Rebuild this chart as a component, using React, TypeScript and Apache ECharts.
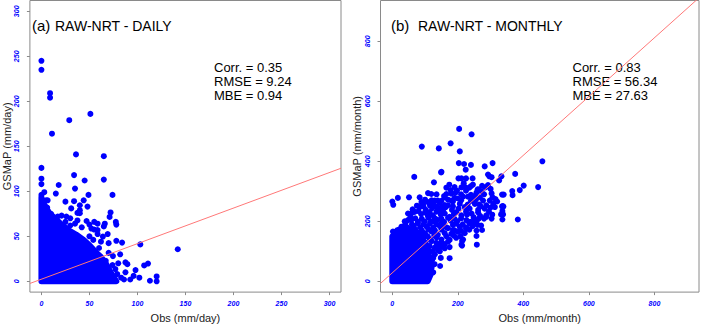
import React, { useEffect, useRef } from "react";
import * as echarts from "echarts";

// ---------- axes ----------
const dailyTicks = [0, 50, 100, 150, 200, 250, 300];
const monthlyTicks = [0, 200, 400, 600, 800];
const dailyRange = [-12, 312];
const monthlyRange = [-36, 936];

// ---------- panel (a) daily ----------
// outline of the fully over-plotted mass (dot centres)
const dailyCore: [number, number][] = [
  [0, 0], [0, 93], [3, 85], [8, 76], [14, 70], [20, 64], [28, 57], [36, 52],
  [44, 46], [50, 40], [56, 33], [62, 27], [67, 20], [71, 12], [75, 5], [78, 0],
];
const dailyPoints: [number, number][] = [
  [0, 245], [0, 235], [9, 209], [9, 204], [51, 186], [29, 179], [11, 164],
  [36, 141], [65, 139], [0, 126], [0, 114], [0, 108], [34, 118], [45, 112],
  [65, 113], [18, 107], [35, 103], [3, 99], [0, 96], [15, 97.5], [49, 96], [74, 96],
  [6.5, 90], [25, 88.5], [34, 89], [44, 90], [40, 84.5], [48, 83], [31, 81],
  [37.5, 76], [72, 76.5], [71, 71.5], [77.5, 66], [69, 52.5], [78, 45], [84, 43],
  [103, 41], [142, 35.6], [87.5, 21], [89.5, 19], [107, 17.6], [111, 19.7],
  [98, 12.5], [102, 4], [113, 0.6], [120, 5.4], [120, 0], [96, 6],
  [4.8, 90], [40, 79], [40, 75.6], [10, 75], [21, 73], [26, 72], [11, 69],
  [37.5, 67.6], [47, 67], [50, 63], [66, 64], [65, 61], [78, 63], [55, 57.5],
  [58.5, 52.5], [64, 49.7], [50, 50], [43, 42], [46.6, 38], [70, 42.4], [60, 37],
  [70, 31.6], [74.5, 28], [67, 22.7], [63.7, 13.6], [70, 11.9], [77, 13.6],
  [79, 8], [87.5, 10], [86, 2], [92.5, 2], [55, 66], [58.5, 64], [52, 58.6],
  [58.5, 57], [30, 70], [35, 64], [42, 60], [30, 62], [25, 66], [17, 72],
  [6, 82], [82, 30], [80, 20], [83, 4], [74, 18], [62, 44], [54, 46],
];
const dailyFitLine: [number, number][] = [[-12, -2.4], [312, 125.6]];
const dailyStats = ["Corr. = 0.35", "RMSE = 9.24", "MBE = 0.94"];

// ---------- panel (b) monthly ----------
const monthlyCore: [number, number][] = [
  [0, 0], [0, 150], [15, 170], [40, 180], [70, 165], [95, 130], [110, 95],
  [118, 60], [118, 25], [108, 0],
];
const monthlyPoints: [number, number][] = [
  // sparse / outer points
  [204, 508], [242, 490], [90, 449], [142, 443], [178, 460], [206, 433],
  [203, 394], [219, 391], [240, 388], [224, 372], [282, 383], [306, 394],
  [375, 358], [149, 363], [67, 348], [296, 350], [326, 336], [401, 319],
  [389, 304], [366, 301], [445, 314], [458, 400], [127, 330], [174, 322],
  [17, 278], [0, 266], [3, 255], [51, 280], [383, 206], [332, 223], [339, 249],
  [257, 151], [258, 122], [260, 188], [213, 134], [213, 119], [175, 114],
  [148, 78], [146, 51], [121, 70], [101, 36], [7, 164], [6, 137], [340, 289],
  [367, 287], [337, 251], [336, 234], [257, 169], [271, 186], [175, 77],
  [102, 30], [63, 93], [202, 343], [240, 317], [260, 305],
  // points read in the band
  [211, 343], [225, 343], [245, 343], [150, 365], [292, 356], [303, 347], [333, 350],
  [218, 327], [211, 313], [223, 313], [197.5, 302], [193.6, 296], [262, 307],
  [274, 318], [284, 313], [292, 321], [257, 296], [252, 285], [109, 294],
  [119, 291], [165, 291], [160, 280], [129, 269], [139, 269], [180, 269],
  [190.5, 278], [216, 282], [231, 282], [303, 293], [306, 280], [297.5, 269],
  [335, 289], [267, 280], [277, 269], [109, 264], [94, 258], [83.5, 247.5],
  [150, 247.5], [170, 253], [206, 258], [221, 247.5], [252, 258], [236, 242],
  [287, 253], [308, 258], [313, 247.5], [335, 249.5], [58, 226], [68, 231],
  [114, 231], [124, 220], [160, 226], [175, 215], [211, 220], [242, 226],
  [226, 204], [287, 220], [280, 209], [303, 209], [338, 223], [336, 206],
  [48, 204], [99, 199], [129, 199], [150, 193], [185, 188], [206, 182],
  [170, 177], [274, 171], [221, 160.5], [216, 139], [94, 160.5], [119, 166],
  [139, 155], [160, 160.5], [114, 117], [124, 101], [134.5, 128], [150, 139],
  [165, 150], [104, 85], [129, 57], [83.5, 280], [89, 264], [63, 236], [48, 226],
  [2, 166], [185, 171], [206, 182], [226, 177], [287, 215], [211, 122],
  // dense band
  [110, 20], [105, 40], [120, 45], [100, 60], [115, 62], [92, 80], [108, 82],
  [125, 78], [75, 100], [95, 102], [112, 98], [140, 104], [55, 122], [72, 118],
  [90, 124], [108, 120], [142, 118], [160, 124], [38, 140], [55, 145], [75, 138],
  [95, 142], [115, 140], [135, 146], [175, 138], [195, 145], [22, 160], [40, 165],
  [60, 158], [80, 162], [100, 160], [180, 158], [200, 165], [28, 182], [48, 178],
  [66, 185], [85, 180], [105, 182], [125, 178], [145, 184], [165, 180], [225, 178],
  [245, 184], [38, 200], [58, 204], [78, 198], [118, 200], [138, 205], [158, 198],
  [178, 202], [198, 200], [238, 198], [258, 202], [88, 224], [108, 220],
  [148, 222], [188, 224], [228, 222], [248, 214], [268, 218], [305, 222],
  [62, 240], [102, 238], [122, 244], [142, 236], [162, 246], [182, 238],
  [202, 242], [262, 238], [282, 242], [125, 258], [145, 262], [185, 266],
  [265, 256], [158, 284], [200, 276], [245, 278], [315, 274], [178, 304],
  [225, 302], [246, 322], [272, 300],
  [65, 110], [85, 112], [100, 108], [130, 112], [150, 115],
  [45, 130], [65, 132], [82, 128], [100, 130], [120, 134], [150, 128], [170, 132],
  [30, 150], [48, 152], [68, 150], [88, 154], [108, 150], [128, 152], [188, 152], [208, 150],
  [30, 172], [50, 170], [70, 172], [90, 170], [110, 174], [130, 170], [150, 172],
  [190, 170], [210, 168], [235, 172],
  [40, 192], [60, 190], [78, 194], [95, 190], [115, 192], [135, 190], [155, 188],
  [195, 192], [215, 190], [235, 192], [250, 196],
  [55, 212], [70, 210], [90, 208], [110, 212], [130, 210], [150, 208], [170, 212],
  [190, 208], [210, 210], [250, 208], [265, 210],
  [80, 234], [100, 230], [135, 232], [155, 234], [195, 230], [225, 232], [262, 230], [295, 232],
  [75, 252], [95, 250], [115, 252], [135, 250], [160, 254], [185, 250], [230, 256],
  [270, 250], [300, 246],
  [100, 272], [120, 270], [150, 268], [170, 272], [210, 270], [240, 268], [255, 272], [320, 266],
  [135, 290], [180, 292], [210, 290], [240, 288], [280, 290],
  [165, 312], [190, 314], [235, 312], [300, 308],
  [110, 60], [130, 90], [145, 100], [160, 110], [100, 95], [115, 100], [125, 30], [110, 10],
];
const monthlyFitLine: [number, number][] = [[-36, -7], [936, 945]];
const monthlyStats = ["Corr. = 0.83", "RMSE = 56.34", "MBE = 27.63"];

// ---------- styling ----------
const FONT = "'Liberation Sans', Arial, Helvetica, sans-serif";
const BLUE = "#0000ff";
const BOX = "#8a8a8a";
const DOT = 6;

function makeX(gridIndex: number, range: number[], ticks: number[], name: string) {
  return {
    gridIndex,
    type: "value",
    min: range[0],
    max: range[1],
    name,
    nameLocation: "middle",
    nameGap: 14,
    nameTextStyle: { fontSize: 11, color: "#222", fontFamily: FONT },
    splitLine: { show: false },
    axisLine: { show: false, onZero: false },
    axisTick: { show: true, customValues: ticks, length: 3, lineStyle: { color: BOX } },
    axisLabel: {
      customValues: ticks,
      margin: 8,
      fontSize: 7,
      fontStyle: "italic",
      fontWeight: "bold",
      color: BLUE,
      fontFamily: FONT,
    },
  };
}

function makeY(gridIndex: number, range: number[], ticks: number[], name: string, gap: number) {
  return {
    gridIndex,
    type: "value",
    min: range[0],
    max: range[1],
    name,
    nameLocation: "middle",
    nameGap: gap,
    nameTextStyle: { fontSize: 11, color: "#222", fontFamily: FONT },
    splitLine: { show: false },
    axisLine: { show: false, onZero: false },
    axisTick: { show: true, customValues: ticks, length: 3, lineStyle: { color: BOX } },
    axisLabel: {
      customValues: ticks,
      rotate: 90,
      margin: 10,
      fontSize: 7,
      fontStyle: "italic",
      fontWeight: "bold",
      color: BLUE,
      fontFamily: FONT,
    },
  };
}

function coreSeries(idx: number, core: [number, number][]) {
  return {
    type: "custom",
    xAxisIndex: idx,
    yAxisIndex: idx,
    data: core,
    z: 2,
    renderItem: (params: any, api: any) => {
      if (params.dataIndex !== 0) return null;
      const pts = core.map((p) => api.coord(p));
      return {
        type: "polygon",
        shape: { points: pts },
        style: { fill: BLUE, stroke: BLUE, lineWidth: DOT, lineJoin: "round" },
      };
    },
  };
}

function textEl(x: number, y: number, text: string, size: number, lineHeight?: number) {
  return {
    type: "text",
    x,
    y,
    style: {
      text,
      fill: "#000",
      fontSize: size,
      fontFamily: FONT,
      verticalAlign: lineHeight ? "top" : "middle",
      lineHeight: lineHeight || size * 1.2,
    },
  };
}

export default function App() {
  const ref = useRef<HTMLDivElement>(null);
  useEffect(() => {
    if (!ref.current) return;
    const chart = echarts.init(ref.current, undefined, { renderer: "svg" });
    chart.setOption({
      animation: false,
      backgroundColor: "#fff",
      grid: [
        { left: 22.5, top: 0.5, width: 318.5, height: 300, show: true, borderColor: BOX, borderWidth: 1 },
        { left: 380.5, top: 0.5, width: 318.5, height: 300, show: true, borderColor: BOX, borderWidth: 1 },
      ],
      xAxis: [
        makeX(0, dailyRange, dailyTicks, "Obs (mm/day)"),
        makeX(1, monthlyRange, monthlyTicks, "Obs (mm/month)"),
      ],
      yAxis: [
        makeY(0, dailyRange, dailyTicks, "GSMaP (mm/day)", 13),
        makeY(1, monthlyRange, monthlyTicks, "GSMaP (mm/month)", 15),
      ],
      series: [
        coreSeries(0, dailyCore),
        {
          type: "scatter",
          xAxisIndex: 0,
          yAxisIndex: 0,
          data: dailyPoints,
          symbolSize: DOT,
          itemStyle: { color: BLUE, opacity: 1 },
          z: 3,
        },
        {
          type: "line",
          xAxisIndex: 0,
          yAxisIndex: 0,
          data: dailyFitLine,
          symbol: "none",
          clip: true,
          lineStyle: { color: "#ff7878", width: 1 },
          z: 5,
        },
        coreSeries(1, monthlyCore),
        {
          type: "scatter",
          xAxisIndex: 1,
          yAxisIndex: 1,
          data: monthlyPoints,
          symbolSize: DOT,
          itemStyle: { color: BLUE, opacity: 1 },
          z: 3,
        },
        {
          type: "line",
          xAxisIndex: 1,
          yAxisIndex: 1,
          data: monthlyFitLine,
          symbol: "none",
          clip: true,
          lineStyle: { color: "#ff7878", width: 1 },
          z: 5,
        },
      ],
      graphic: [
        textEl(32, 25, "(a)", 15),
        textEl(55, 25.5, "RAW-NRT - DAILY", 14),
        textEl(214, 60, dailyStats.join("\n"), 13, 14),
        textEl(391, 25, "(b)", 15),
        textEl(418, 25.5, "RAW-NRT - MONTHLY", 14),
        textEl(572.5, 60, monthlyStats.join("\n"), 13, 14),
      ],
    });
    return () => chart.dispose();
  }, []);
  return (
    <div
      ref={ref}
      style={{ position: "fixed", left: 0, top: 0, width: 701, height: 328 }}
    />
  );
}
